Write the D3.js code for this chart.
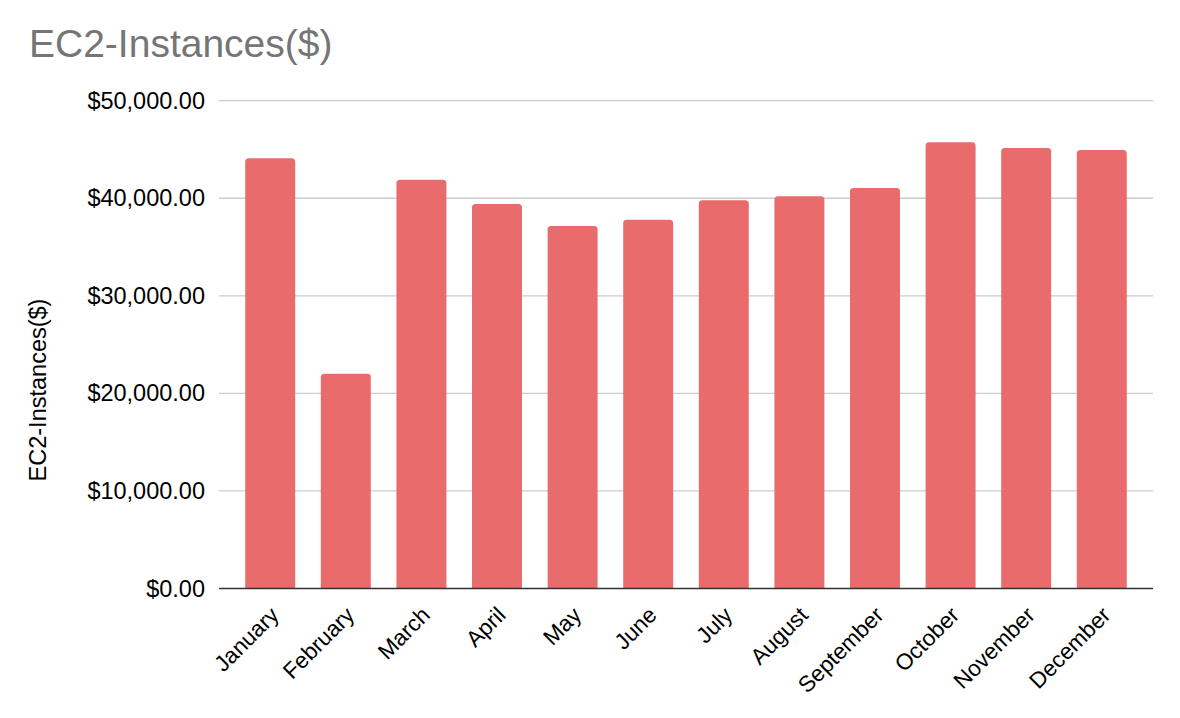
<!DOCTYPE html>
<html>
<head>
<meta charset="utf-8">
<script src="https://cdn.jsdelivr.net/npm/d3@7"></script>
<style>
  html, body { margin: 0; padding: 0; background: #ffffff; }
  svg { display: block; font-family: "Liberation Sans", Arial, sans-serif; }
</style>
</head>
<body>
<svg id="chart" width="1180" height="718"></svg>
<script>
const months = ["January","February","March","April","May","June","July","August","September","October","November","December"];
const costs = [44100, 22000, 41900, 39400, 37150, 37800, 39800, 40200, 41050, 45750, 45150, 44950];
const yTicks = [0, 10000, 20000, 30000, 40000, 50000];
const chartTitle = "EC2-Instances($)";
const yAxisTitle = "EC2-Instances($)";

const svg = d3.select("#chart");
const W = 1180, H = 718;
const plot = { left: 219, right: 1153, top: 100.7, bottom: 588.5 };

svg.append("rect").attr("width", W).attr("height", H).attr("fill", "#ffffff");

const x = d3.scaleBand()
  .domain(months)
  .range([plot.left, plot.right])
  .paddingInner(0.339)
  .paddingOuter(0.347);

const y = d3.scaleLinear()
  .domain([0, 50000])
  .range([plot.bottom, plot.top]);

const fmt = v => "$" + d3.format(",.2f")(v);

// gridlines
svg.append("g")
  .selectAll("line")
  .data(yTicks.filter(t => t !== 0))
  .join("line")
  .attr("x1", plot.left).attr("x2", plot.right)
  .attr("y1", d => y(d)).attr("y2", d => y(d))
  .attr("stroke", "#cccccc").attr("stroke-width", 1.3);

// y tick labels via axis
const yAxis = d3.axisLeft(y).tickValues(yTicks).tickFormat(fmt).tickSize(0).tickPadding(14);
const yg = svg.append("g").attr("transform", `translate(${plot.left},0)`).call(yAxis);
yg.select(".domain").remove();
yg.selectAll("text")
  .attr("font-size", 23.5)
  .attr("fill", "#000000")
  .attr("font-family", "'Liberation Sans', Arial, sans-serif");

// bars with rounded top corners
const r = 3.5;
function barPath(d) {
  const x0 = x(d.m), w = x.bandwidth();
  const y0 = y(d.v), yb = y(0);
  return `M${x0},${yb} L${x0},${y0 + r} Q${x0},${y0} ${x0 + r},${y0} L${x0 + w - r},${y0} Q${x0 + w},${y0} ${x0 + w},${y0 + r} L${x0 + w},${yb} Z`;
}
svg.append("g")
  .selectAll("path")
  .data(months.map((m, i) => ({ m, v: costs[i] })))
  .join("path")
  .attr("d", barPath)
  .attr("fill", "#e96b6c");

// baseline
svg.append("line")
  .attr("x1", plot.left).attr("x2", plot.right)
  .attr("y1", y(0)).attr("y2", y(0))
  .attr("stroke", "#333333").attr("stroke-width", 1.5);

// x labels
const xAxis = d3.axisBottom(x).tickSize(0).tickPadding(0);
const xg = svg.append("g").attr("transform", `translate(0,${plot.bottom})`).call(xAxis);
xg.select(".domain").remove();
xg.selectAll("text")
  .attr("font-size", 22.5)
  .attr("fill", "#000000")
  .attr("font-family", "'Liberation Sans', Arial, sans-serif")
  .attr("text-anchor", "end")
  .attr("dy", null)
  .attr("y", null)
  .attr("transform", "translate(10,28) rotate(-45)");

// chart title
svg.append("text")
  .attr("x", 29).attr("y", 57)
  .attr("font-size", 39)
  .attr("fill", "#757575")
  .text(chartTitle);

// y axis title
svg.append("text")
  .attr("transform", `translate(46,${(298 + 482) / 2}) rotate(-90)`)
  .attr("text-anchor", "middle")
  .attr("font-size", 23.5)
  .attr("fill", "#000000")
  .text(yAxisTitle);
</script>
</body>
</html>
